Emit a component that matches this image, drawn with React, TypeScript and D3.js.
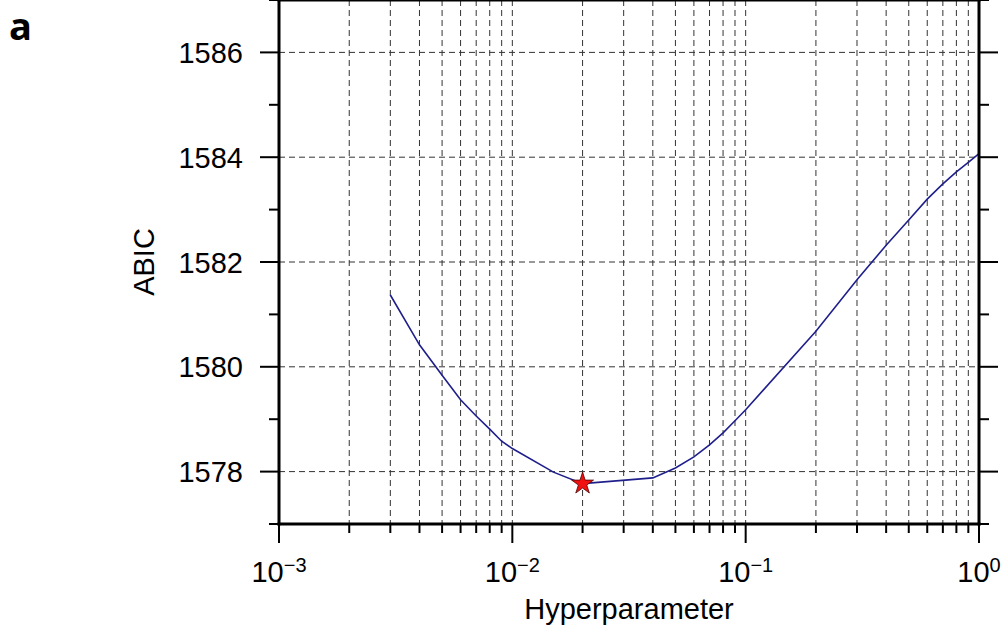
import React from "react";
import * as d3 from "d3";

const hyper = [0.003, 0.004, 0.005, 0.006, 0.007, 0.008, 0.009, 0.01, 0.015, 0.02, 0.04, 0.05, 0.06, 0.07, 0.08, 0.09, 0.1, 0.2, 0.3, 0.4, 0.5, 0.6, 0.7, 0.8, 0.9, 1.0];
const abic = [1581.37, 1580.42, 1579.84, 1579.37, 1579.06, 1578.81, 1578.58, 1578.44, 1577.99, 1577.77, 1577.88, 1578.07, 1578.28, 1578.51, 1578.74, 1578.97, 1579.18, 1580.68, 1581.66, 1582.32, 1582.8, 1583.2, 1583.49, 1583.72, 1583.9, 1584.07];
const bestHyper = 0.02;
const bestAbic = 1577.77;
const yMajorTicks = [1578, 1580, 1582, 1584, 1586];
const yMinorTicks = [1577, 1579, 1581, 1583, 1585, 1587];
const xMajorTicks = [0.001, 0.01, 0.1, 1];
const xMajorExp = ["\u22123", "\u22122", "\u22121", "0"];

const W = 1008, H = 632;
const L = 279, R = 979, T = 0, B = 524;
const FONT = "'Liberation Sans', Arial, Helvetica, sans-serif";

export default function App() {
  const x = d3.scaleLog().domain([0.001, 1]).range([L, R]);
  const y = d3.scaleLinear().domain([1577, 1587]).range([B, T]);

  const minorX: number[] = [];
  for (const dec of [0.001, 0.01, 0.1]) {
    for (let k = 2; k <= 9; k++) minorX.push(dec * k);
  }

  const line = d3.line<number>()
    .x((_, i) => x(hyper[i]))
    .y((d) => y(d));

  const starPath = d3.symbol().type(d3.symbolStar).size(150)()!;

  return (
    <svg width={W} height={H} style={{ position: "absolute", left: 0, top: 0, background: "#fff" }}>
      <rect x={0} y={0} width={W} height={H} fill="#fff" />
      {/* grid */}
      <g stroke="#333" strokeWidth={1} strokeDasharray="6,4" fill="none">
        {yMajorTicks.map((v) => (
          <line key={"gy" + v} x1={L} x2={R} y1={y(v)} y2={y(v)} />
        ))}
        {minorX.concat([0.01, 0.1]).map((v) => (
          <line key={"gx" + v} x1={x(v)} x2={x(v)} y1={T} y2={B} />
        ))}
      </g>
      {/* curve */}
      <path d={line(abic)!} fill="none" stroke="#1f1f8c" strokeWidth={1.6} />
      <path d={starPath} transform={`translate(${x(bestHyper)},${y(bestAbic)})`} fill="#f01010" stroke="#4a0808" strokeWidth={0.8} />
      {/* frame */}
      <g stroke="#000" strokeWidth={3} fill="none">
        <line x1={L} x2={L} y1={T - 2} y2={B + 1.5} />
        <line x1={R} x2={R} y1={T - 2} y2={B + 1.5} />
        <line x1={L - 1.5} x2={R + 1.5} y1={B} y2={B} />
        <line x1={L - 1.5} x2={R + 1.5} y1={T} y2={T} />
      </g>
      {/* ticks */}
      <g stroke="#000" strokeWidth={2}>
        {yMajorTicks.map((v) => (
          <g key={"ty" + v}>
            <line x1={L - 19} x2={L} y1={y(v)} y2={y(v)} />
            <line x1={R} x2={R + 19} y1={y(v)} y2={y(v)} />
          </g>
        ))}
        {yMinorTicks.map((v) => (
          <g key={"tym" + v}>
            <line x1={L - 10} x2={L} y1={y(v)} y2={y(v)} />
            <line x1={R} x2={R + 10} y1={y(v)} y2={y(v)} />
          </g>
        ))}
        {xMajorTicks.map((v) => (
          <line key={"tx" + v} x1={x(v)} x2={x(v)} y1={B} y2={B + 19} />
        ))}
        {minorX.map((v) => (
          <line key={"txm" + v} x1={x(v)} x2={x(v)} y1={B} y2={B + 9} />
        ))}
      </g>
      {/* labels */}
      <g fontFamily={FONT} fill="#000">
        {yMajorTicks.map((v) => (
          <text key={"ly" + v} x={243} y={y(v) + 10.5} textAnchor="end" fontSize={29}>{v}</text>
        ))}
        {xMajorTicks.map((v, i) => (
          <text key={"lx" + v} x={x(v)} y={582} textAnchor="middle" fontSize={29}>
            10<tspan fontSize={20} dy={-10}>{xMajorExp[i]}</tspan>
          </text>
        ))}
        <text x={(L + R) / 2} y={619} textAnchor="middle" fontSize={29}>Hyperparameter</text>
        <text transform={`translate(154,${(T + B) / 2}) rotate(-90)`} textAnchor="middle" fontSize={29}>ABIC</text>
      </g>
      <text x={9} y={40} fontFamily="'Open Sans', 'DejaVu Sans', sans-serif" fontWeight="bold" fontSize={38}>a</text>
    </svg>
  );
}
